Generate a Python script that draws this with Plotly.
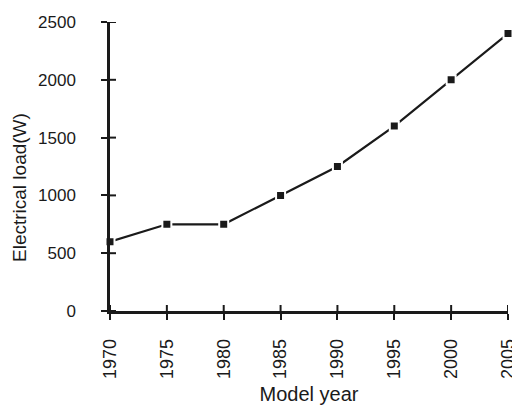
import plotly.graph_objects as go

# Vehicle electrical load by model year
model_year = [1970, 1975, 1980, 1985, 1990, 1995, 2000, 2005]
electrical_load_w = [600, 750, 750, 1000, 1250, 1600, 2000, 2400]
y_ticks = [0, 500, 1000, 1500, 2000, 2500]

FONT = "Liberation Sans, Arial, sans-serif"
INK = "#1a1a1a"
TICK_LEN = 6
W, H = 512, 406
M = dict(l=110, r=4, t=22, b=95)
PLOT_W = W - M["l"] - M["r"]
PLOT_H = H - M["t"] - M["b"]
X_RANGE = [min(model_year), max(model_year)]
Y_RANGE = [min(y_ticks), max(y_ticks)]

fig = go.Figure()

# inward half of each tick (pixel length converted to data units),
# so the ticks cross the axis lines
dx = TICK_LEN * (X_RANGE[1] - X_RANGE[0]) / PLOT_W
dy = TICK_LEN * (Y_RANGE[1] - Y_RANGE[0]) / PLOT_H
tx, ty = [], []
for yv in y_ticks:
    tx += [X_RANGE[0], X_RANGE[0] + dx, None]
    ty += [yv, yv, None]
for xv in model_year:
    tx += [xv, xv, None]
    ty += [Y_RANGE[0], Y_RANGE[0] + dy, None]
fig.add_trace(go.Scatter(
    x=tx, y=ty, mode="lines", line=dict(color=INK, width=2),
    cliponaxis=False, showlegend=False, hoverinfo="skip",
))

fig.add_trace(go.Scatter(
    x=model_year, y=electrical_load_w,
    mode="lines+markers",
    line=dict(color=INK, width=2.2),
    marker=dict(symbol="square", size=9, color=INK,
                line=dict(color="white", width=2)),
    cliponaxis=False, showlegend=False, hoverinfo="x+y",
))

# y-axis title, sitting a little below the vertical centre of the plot
fig.add_annotation(text="Electrical load(W)", textangle=-90,
                   xref="paper", yref="paper", x=(20 - M["l"]) / PLOT_W,
                   y=(M["t"] + PLOT_H - 188) / PLOT_H,
                   xanchor="center", yanchor="middle", showarrow=False,
                   font=dict(size=19, color=INK, family=FONT))

axis_common = dict(showgrid=False, zeroline=False, tickcolor=INK,
                   tickwidth=2, ticklen=TICK_LEN, ticks="outside",
                   showline=True, linecolor=INK, linewidth=2.5,
                   ticklabeloverflow="allow", automargin=False)

fig.update_layout(
    width=W, height=H,
    margin=M,
    paper_bgcolor="white", plot_bgcolor="white",
    font=dict(family=FONT, color=INK, size=17),
    xaxis=dict(
        range=X_RANGE, tickvals=model_year,
        tickangle=-90, ticklabelstandoff=12,
        tickfont=dict(size=18),
        title=dict(text="Model year", font=dict(size=20), standoff=10),
        **axis_common,
    ),
    yaxis=dict(
        range=Y_RANGE, tickvals=y_ticks,
        ticklabelstandoff=22,
        **axis_common,
    ),
)

fig.write_html("out.html")
